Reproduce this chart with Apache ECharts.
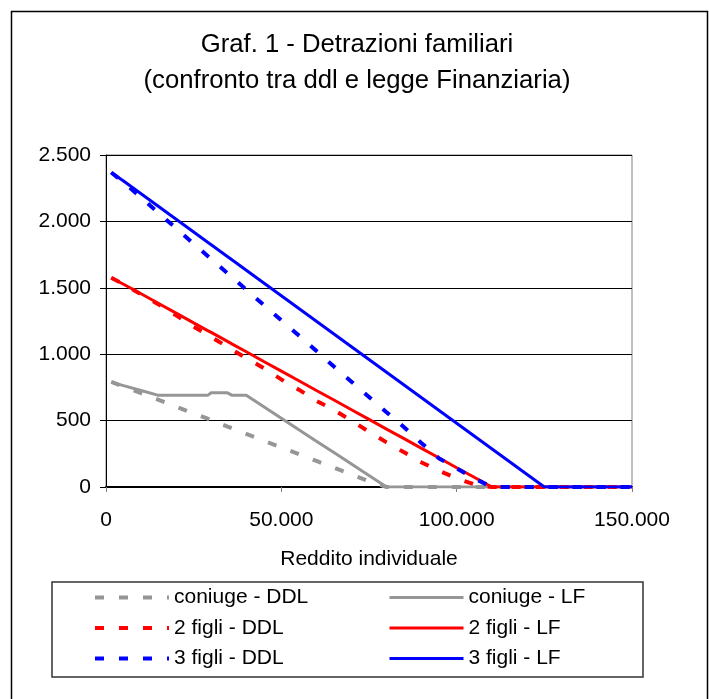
<!DOCTYPE html>
<html lang="it">
<head>
    <meta charset="UTF-8">
    <title>Graf. 1 - Detrazioni familiari</title>
    <script src="https://cdn.jsdelivr.net/npm/echarts@6/dist/echarts.min.js"></script>
    <style>
        html, body { margin: 0; padding: 0; background: #fff; }
        #chart { width: 709px; height: 699px; }
    </style>
</head>
<body>
    <div id="chart"></div>

    <script>
        // reddito individuale (asse x)
        const income = [1500, 5000, 10000, 15000, 20000, 25000, 29000, 30000, 34500, 35000, 36000, 40000, 45000, 50000,
            55000, 60000, 65000, 70000, 75000, 80000, 85000, 90000, 95000, 100000, 105000, 110000, 115000, 120000, 125000, 150000];

        // detrazioni
        const coniugeDDL = [792, 757, 707, 656, 605, 554, 514, 503, 457, 452, 442, 400, 349, 298,
            247, 196, 145, 94, 43, 0, 0, 0, 0, 0, 0, 0, 0, 0, 0, 0];
        const coniugeLF = [790, 763, 727, 690, 690, 690, 690, 710, 710, 720, 690, 690, 604, 518,
            431, 345, 259, 173, 86, 0, 0, 0, 0, 0, 0, 0, 0, 0, 0, 0];
        const figli2DDL = [1575, 1528, 1450, 1375, 1292, 1207, 1145, 1130, 1057, 1049, 1033, 972, 895, 810,
            733, 649, 580, 500, 416, 336, 261, 185, 122, 65, 20, 0, 0, 0, 0, 0];
        const figli2LF = [1575, 1527, 1455, 1382, 1309, 1236, 1178, 1164, 1098, 1091, 1076, 1018, 945, 873,
            800, 727, 655, 582, 509, 436, 364, 291, 218, 145, 73, 0, 0, 0, 0, 0];
        const figli3DDL = [2368, 2295, 2180, 2063, 1948, 1832, 1740, 1717, 1613, 1601, 1578, 1486, 1370, 1255,
            1140, 1025, 907, 793, 678, 563, 450, 330, 215, 140, 65, 0, 0, 0, 0, 0];
        const figli3LF = [2368, 2304, 2208, 2112, 2016, 1920, 1843, 1824, 1738, 1728, 1709, 1632, 1536, 1440,
            1344, 1248, 1152, 1056, 960, 864, 768, 672, 576, 480, 384, 288, 192, 96, 0, 0];

        const FONT = "'Liberation Sans', Arial, sans-serif";
        const GRAY = '#969696', RED = '#ff0000', BLUE = '#0000ff';
        const DASH = [9, 15];

        const fmt = v => String(v).replace(/\B(?=(\d{3})+(?!\d))/g, '.');
        const pairs = vals => income.map((x, i) => [x, vals[i]]);

        function line(name, vals, color, dashed) {
            return {
                name: name,
                type: 'line',
                data: pairs(vals),
                symbol: 'none',
                smooth: false,
                silent: true,
                lineStyle: { color: color, width: dashed ? 4 : 3, type: dashed ? DASH : 'solid', cap: 'butt' },
                itemStyle: { color: color },
                emphasis: { disabled: true }
            };
        }

        const legendText = { fontFamily: FONT, fontSize: 21, color: '#000', lineHeight: 20 };
        const legendBase = {
            orient: 'vertical', top: 587, padding: 0,
            itemWidth: 74, itemHeight: 20, itemGap: 9.5,
            itemStyle: { opacity: 0 },
            lineStyle: { width: 'inherit', cap: 'butt' },
            selectedMode: false,
            textStyle: legendText
        };

        const chart = echarts.init(document.getElementById('chart'), null, { renderer: 'canvas' });
        chart.setOption({
            animation: false,
            backgroundColor: '#fff',
            title: {
                text: 'Graf. 1 - Detrazioni familiari\n(confronto tra ddl e legge Finanziaria)',
                left: 357,
                top: 27,
                padding: 0,
                textAlign: 'center',
                textStyle: { fontFamily: FONT, fontSize: 25.7, fontWeight: 'normal', color: '#000', lineHeight: 36 }
            },
            grid: {
                left: 106, top: 155, width: 526, height: 332,
                show: true, borderColor: '#808080', borderWidth: 1, containLabel: false
            },
            xAxis: {
                type: 'value',
                min: 0, max: 150000, interval: 50000,
                name: 'Reddito individuale',
                nameLocation: 'middle',
                nameGap: 62,
                nameTextStyle: { fontFamily: FONT, fontSize: 21, color: '#000' },
                axisLine: { show: true, lineStyle: { color: '#000', width: 2 } },
                axisTick: { show: true, length: 5, lineStyle: { color: '#808080' } },
                axisLabel: { fontFamily: FONT, fontSize: 21, color: '#000', margin: 23, formatter: fmt },
                splitLine: { show: false }
            },
            yAxis: {
                type: 'value',
                min: 0, max: 2500, interval: 500,
                axisLine: { show: true, lineStyle: { color: '#000', width: 1 } },
                axisTick: { show: true, length: 6, lineStyle: { color: '#000' } },
                axisLabel: { fontFamily: FONT, fontSize: 21, color: '#000', margin: 15, formatter: fmt },
                splitLine: { show: true, lineStyle: { color: '#000', width: 1 } }
            },
            legend: [
                Object.assign({ left: 93, data: ['coniuge - DDL', '2 figli - DDL', '3 figli - DDL'] }, legendBase),
                Object.assign({ left: 388, data: ['coniuge - LF', '2 figli - LF', '3 figli - LF'] }, legendBase)
            ],
            graphic: [
                {
                    type: 'rect', silent: true, z: -1,
                    shape: { x: 11.5, y: 11.5, width: 696, height: 700 },
                    style: { fill: null, stroke: '#000', lineWidth: 1.5 }
                },
                {
                    type: 'rect', silent: true, z: -1,
                    shape: { x: 52, y: 582, width: 591, height: 95 },
                    style: { fill: null, stroke: '#333', lineWidth: 1.5 }
                }
            ],
            series: [
                line('coniuge - DDL', coniugeDDL, GRAY, true),
                line('coniuge - LF', coniugeLF, GRAY, false),
                line('2 figli - DDL', figli2DDL, RED, true),
                line('2 figli - LF', figli2LF, RED, false),
                line('3 figli - DDL', figli3DDL, BLUE, true),
                line('3 figli - LF', figli3LF, BLUE, false)
            ]
        });
    </script>
</body>
</html>
